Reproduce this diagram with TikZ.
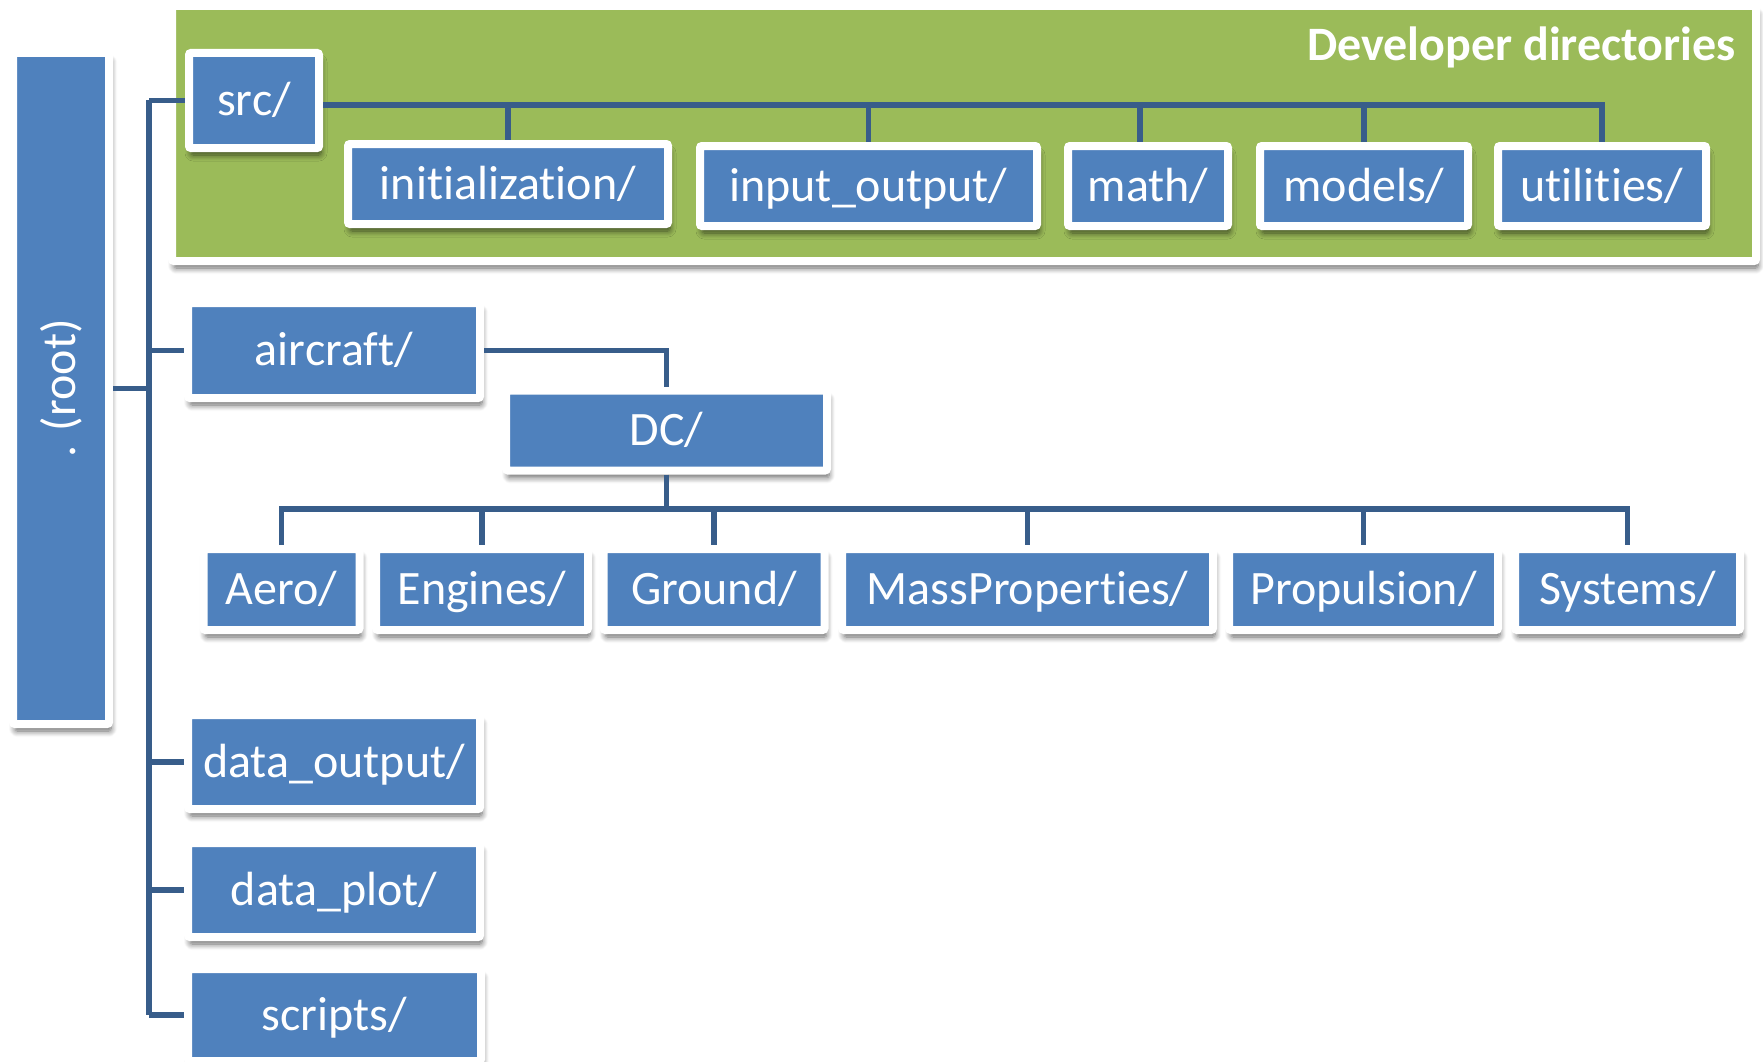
\documentclass[tikz,border=0pt]{standalone}
\usepackage{fontspec}
\setmainfont{Carlito}[RawFeature={-liga;-calt;-clig}]
\usetikzlibrary{shadows.blur}
\definecolor{boxblue}{RGB}{79,129,189}
\definecolor{panelgreen}{RGB}{155,187,89}
\definecolor{linkblue}{RGB}{56,93,138}
\tikzset{
  softshadow/.style={blur shadow={shadow xshift=2pt, shadow yshift=-7pt,
      shadow blur steps=8, shadow blur radius=6pt, shadow opacity=60}},
  dirbox/.style={draw=white, line width=8pt, fill=boxblue, rounded corners=2pt,
      text=white, font=\fontsize{48}{52}\selectfont, inner sep=0pt,
      text height=30pt, text depth=0pt, softshadow},
  link/.style={draw=linkblue, line width=5.5pt, line join=miter},
}
\begin{document}
\begin{tikzpicture}[x=1pt, y=-1pt]
\useasboundingbox (0,0) rectangle (1763,1062);

% developer area
\node[draw=white, line width=8pt, fill=panelgreen, rounded corners=2pt, softshadow,
      minimum width=1584pt, minimum height=255pt, inner sep=0pt] (devpanel) at (964,133.5) {};
\node[anchor=east, text=white, font=\fontsize{48}{52}\selectfont\bfseries, inner sep=0pt]
  (devtitle) at (1736,47) {Developer directories};

% root
\node[dirbox, text height=, text depth=, minimum width=96pt, minimum height=671pt] (root) at (61,388.5)
  {\rotatebox{90}{. (root)}};

% first level
\node[dirbox, minimum width=130pt, minimum height=95pt] (src) at (254,100.5) {src/};
\node[dirbox, minimum width=292pt, minimum height=95pt] (aircraft) at (334,350.5) {aircraft/};
\node[dirbox, minimum width=292pt, minimum height=94pt] (dataout) at (334,762) {data\_output/};
\node[dirbox, minimum width=292pt, minimum height=94pt] (dataplot) at (334,890) {data\_plot/};
\node[dirbox, minimum width=293pt, minimum height=92pt] (scripts) at (334.5,1015) {scripts/};

% src children
\node[dirbox, minimum width=320pt, minimum height=80pt] (init) at (508,184) {initialization/};
\node[dirbox, minimum width=337pt, minimum height=80pt] (inout) at (868.5,186) {input\_output/};
\node[dirbox, minimum width=160pt, minimum height=80pt] (math) at (1148,186) {math/};
\node[dirbox, minimum width=208pt, minimum height=80pt] (models) at (1364,186) {models/};
\node[dirbox, minimum width=208pt, minimum height=80pt] (utils) at (1602,186) {utilities/};

% aircraft children
\node[dirbox, minimum width=321pt, minimum height=80pt] (dc) at (666.5,430.5) {DC/};
\node[dirbox, minimum width=156pt, minimum height=81pt] (aero) at (281.5,589.5) {Aero/};
\node[dirbox, minimum width=212pt, minimum height=81pt] (engines) at (482,589.5) {Engines/};
\node[dirbox, minimum width=221pt, minimum height=81pt] (ground) at (714,589.5) {Ground/};
\node[dirbox, minimum width=371pt, minimum height=81pt] (mass) at (1027.5,589.5) {MassProperties/};
\node[dirbox, minimum width=269pt, minimum height=81pt] (prop) at (1363.5,589.5) {Propulsion/};
\node[dirbox, minimum width=225pt, minimum height=81pt] (systems) at (1627.5,589.5) {Systems/};

\coordinate (trunk) at (149,0);
\coordinate (srcbus) at (0,105);
\coordinate (dcbus) at (0,509);

% trunk from the root
\draw[link] (root.east) -- (root.east -| trunk);
\draw[link] (trunk |- src.west) -- (trunk |- scripts.west);
\foreach \n in {src,aircraft,dataout,dataplot,scripts}
  \draw[link] (trunk |- \n.west) -- (\n.west);
% src bus
\draw[link] (src.east |- srcbus) -- (utils.north |- srcbus) -- (utils.north);
\foreach \n in {init,inout,models}
  \draw[link] (\n.north |- srcbus) -- (\n.north);
\draw[link] ([xshift=-8pt]math.north |- srcbus) -- ([xshift=-8pt]math.north);
% aircraft to DC
\draw[link] (aircraft.east) -| (dc.north);
% DC bus
\draw[link] (dc.south) -- (dc.south |- dcbus);
\draw[link] (aero.north) -- (aero.north |- dcbus) -- (systems.north |- dcbus) -- (systems.north);
\foreach \n in {engines,ground,mass,prop}
  \draw[link] (\n.north |- dcbus) -- (\n.north);
\end{tikzpicture}
\end{document}
